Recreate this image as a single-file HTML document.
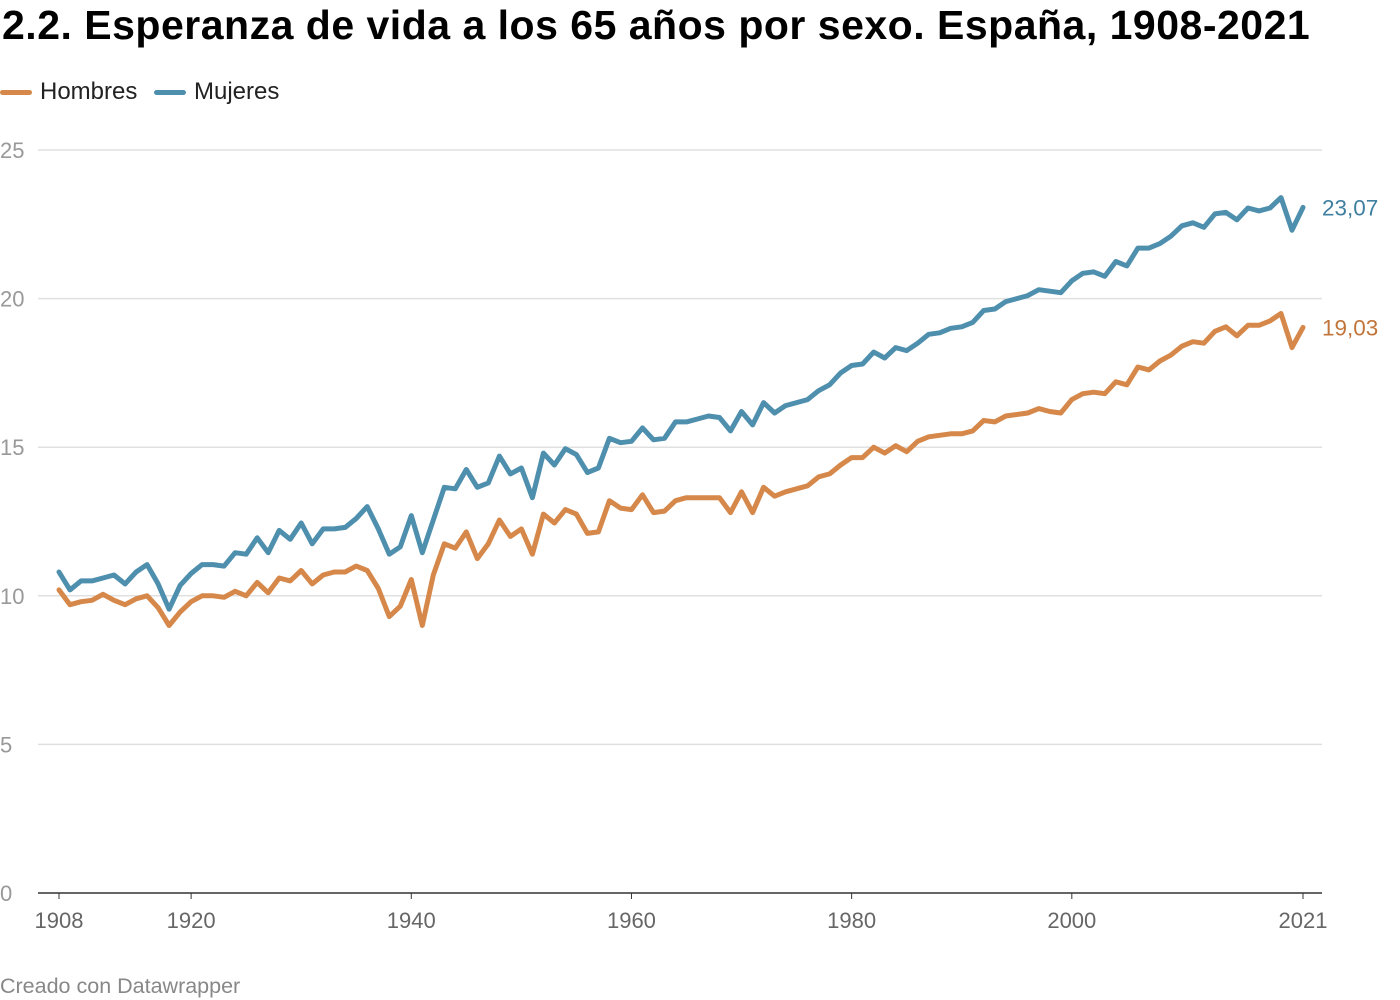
<!DOCTYPE html>
<html><head><meta charset="utf-8"><style>
body{margin:0;background:#fff;font-family:"Liberation Sans",sans-serif;}
#wrap{position:relative;width:1400px;height:1000px;overflow:hidden;}
h1{position:absolute;left:2px;top:0;margin:0;font-size:41px;font-weight:bold;color:#000;letter-spacing:0.5px;line-height:50px;}
.leg{position:absolute;top:78px;font-size:24px;color:#222;display:flex;align-items:center;}
.leg span.sw{display:inline-block;width:32px;height:5px;border-radius:3px;margin-right:8px;}
#foot{position:absolute;left:0;top:974px;font-size:21.5px;color:#888;}
</style></head><body>
<div id="wrap">
<h1>2.2. Esperanza de vida a los 65 años por sexo. España, 1908-2021</h1>
<div class="leg" style="left:0"><span class="sw" style="background:#d6884a"></span>Hombres</div>
<div class="leg" style="left:154px"><span class="sw" style="background:#4f8fae"></span>Mujeres</div>
<svg id="plot" width="1400" height="1000" style="position:absolute;left:0;top:0"></svg>
<div id="foot">Creado con Datawrapper</div>
</div>
<script>
const yTicks=[0,5,10,15,20,25];
const xTicks=[1908,1920,1940,1960,1980,2000,2021];
const startYear=1908;
const mujeres=[10.8,10.2,10.5,10.5,10.6,10.7,10.4,10.8,11.05,10.4,9.55,10.35,10.75,11.05,11.05,11.0,11.45,11.4,11.95,11.45,12.2,11.9,12.45,11.75,12.25,12.25,12.3,12.6,13.0,12.25,11.4,11.65,12.7,11.45,12.55,13.65,13.6,14.25,13.65,13.8,14.7,14.1,14.3,13.3,14.8,14.4,14.95,14.75,14.15,14.3,15.3,15.15,15.2,15.65,15.25,15.3,15.85,15.85,15.95,16.05,16.0,15.55,16.2,15.75,16.5,16.15,16.4,16.5,16.6,16.9,17.1,17.5,17.75,17.8,18.2,18.0,18.35,18.25,18.5,18.8,18.85,19.0,19.05,19.2,19.6,19.65,19.9,20.0,20.1,20.3,20.25,20.2,20.6,20.85,20.9,20.75,21.25,21.1,21.7,21.7,21.85,22.1,22.45,22.55,22.4,22.85,22.9,22.65,23.05,22.95,23.05,23.4,22.3,23.07];
const hombres=[10.2,9.7,9.8,9.85,10.05,9.85,9.7,9.9,10.0,9.6,9.0,9.45,9.8,10.0,10.0,9.95,10.15,10.0,10.45,10.1,10.6,10.5,10.85,10.4,10.7,10.8,10.8,11.0,10.85,10.25,9.3,9.65,10.55,9.0,10.7,11.75,11.6,12.15,11.25,11.75,12.55,12.0,12.25,11.4,12.75,12.45,12.9,12.75,12.1,12.15,13.2,12.95,12.9,13.4,12.8,12.85,13.2,13.3,13.3,13.3,13.3,12.8,13.5,12.8,13.65,13.35,13.5,13.6,13.7,14.0,14.1,14.4,14.65,14.65,15.0,14.8,15.05,14.85,15.2,15.35,15.4,15.45,15.45,15.55,15.9,15.85,16.05,16.1,16.15,16.3,16.2,16.15,16.6,16.8,16.85,16.8,17.2,17.1,17.7,17.6,17.9,18.1,18.4,18.55,18.5,18.9,19.05,18.75,19.1,19.1,19.25,19.5,18.35,19.03];
const NS='http://www.w3.org/2000/svg';
const svg=document.getElementById('plot');
const x=yr=>59+(yr-1908)*(1303-59)/(2021-1908);
const y=v=>893-v*(893-150)/25;
function mk(t,a,parent){const e=document.createElementNS(NS,t);for(const k in a)e.setAttribute(k,a[k]);(parent||svg).appendChild(e);return e;}
yTicks.forEach(v=>{
  if(v>0){const g=mk('line',{x1:38,x2:1322,y1:y(v),y2:y(v),stroke:'#e0e0e0','stroke-width':1.5});
  
  }
  const t=mk('text',{x:0,y:y(v)+8,'font-size':22,fill:'#999','font-family':'Liberation Sans, sans-serif'});
  t.textContent=v;
  
  
});
const ax=mk('line',{x1:38,x2:1322,y1:y(0),y2:y(0),stroke:'#333','stroke-width':1.5});


xTicks.forEach(yr=>{
  const tk=mk('line',{x1:x(yr),x2:x(yr),y1:y(0),y2:y(0)+6,stroke:'#333','stroke-width':1});
  
  
  const t=mk('text',{x:x(yr),y:928,'font-size':22,fill:'#666','text-anchor':'middle','font-family':'Liberation Sans, sans-serif'});
  t.textContent=yr;
  
  
});
function line(arr,color,name){
  const d=arr.map((v,i)=>(i?'L':'M')+x(startYear+i).toFixed(1)+','+y(v).toFixed(1)).join('');
  const p=mk('path',{d:d,fill:'none',stroke:color,'stroke-width':5,'stroke-linejoin':'round','stroke-linecap':'round'});
  
  
}
line(hombres,'#d6884a','line-hombres');
line(mujeres,'#4f8fae','line-mujeres');
function endLabel(arr,color,name){
  const v=arr[arr.length-1];
  const t=mk('text',{x:1322,y:y(v)+8,'font-size':22.5,fill:color,'font-family':'Liberation Sans, sans-serif'});
  t.textContent=v.toFixed(2).replace('.',',');
  
  
}
endLabel(mujeres,'#3f7fa0','end-label-mujeres');
endLabel(hombres,'#c2753a','end-label-hombres');
</script>
</body></html>
